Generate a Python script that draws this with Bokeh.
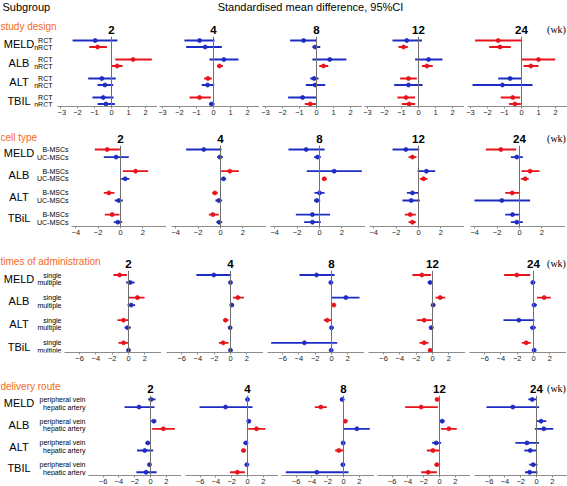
from bokeh.plotting import figure
from bokeh.layouts import row, column
from bokeh.models import Range1d, FixedTicker, ColumnDataSource, Span
from bokeh.core.properties import value
from bokeh.embed import file_html
from bokeh.resources import INLINE

# ---------------- data ----------------
WEEKS = ["2", "4", "8", "12", "24"]
OUTCOMES_A = ["MELD", "ALB", "ALT", "TBIL"]
OUTCOMES_B = ["MELD", "ALB", "ALT", "TBiL"]
GROUP_TITLES = ["study design", "cell type", "times of administration", "delivery route"]
SD_LEVELS = ["RCT", "nRCT"]
CT_LEVELS = ["B-MSCs", "UC-MSCs"]
TA_LEVELS = ["single", "multiple"]
DR_LEVELS = ["peripheral vein", "hepatic artery"]

# order in each week: MELD a, MELD b, ALB a, ALB b, ALT a, ALT b, TBIL a, TBIL b
SD_EST = [[-0.96, -0.82, 1.27, 0.33, -0.57, -0.39, -0.49, -0.33],
          [-0.82, -0.49, 0.61, 0.35, -0.33, -0.35, -0.82, -0.12],
          [-0.76, -0.08, 0.78, 0.41, -0.14, -0.08, -0.82, -0.37],
          [-0.69, -0.88, 0.59, 0.49, -0.59, -0.59, -0.73, -0.55],
          [-1.37, -1.27, 1.00, 0.55, -0.67, -1.12, -0.51, -0.39]]
SD_LO = [[-2.29, -1.31, 0.22, 0.02, -1.37, -0.82, -1.12, -0.82],
         [-1.71, -1.61, -0.24, 0.22, -0.55, -0.69, -1.41, -0.25],
         [-1.55, -0.24, -0.24, 0.16, -0.37, -0.63, -1.67, -0.69],
         [-1.53, -1.18, -0.20, 0.20, -1.08, -1.43, -1.24, -0.98],
         [-2.73, -1.90, 0.02, 0.12, -1.37, -2.88, -1.22, -0.73]]
SD_HI = [[0.35, -0.27, 2.37, 0.65, 0.25, 0.10, 0.12, 0.20],
         [0.06, 0.49, 1.47, 0.55, -0.10, 0.04, -0.16, 0.06],
         [0.02, 0.22, 1.76, 0.69, 0.12, 0.51, 0.02, -0.04],
         [0.20, -0.63, 1.41, 0.84, -0.10, 0.24, -0.20, -0.20],
         [-0.02, -0.63, 1.98, 1.00, 0.02, 0.65, -0.08, -0.04]]
SD_SIG = [[0, 1, 1, 1, 0, 0, 0, 0],
          [0, 0, 0, 1, 1, 0, 1, 0],
          [0, 0, 0, 1, 0, 0, 0, 1],
          [0, 1, 0, 1, 1, 0, 1, 1],
          [1, 1, 1, 1, 0, 0, 1, 1]]

CT_EST = [[-1.19, -0.39, 1.34, 0.42, -1.04, -0.15, -0.74, -0.24],
          [-1.49, -0.06, 0.83, 0.27, -0.51, -0.15, -0.68, -0.12],
          [-1.19, -0.18, 1.31, 0.42, 0.00, -0.24, -0.63, -0.63],
          [-1.13, -0.54, 0.71, 0.45, -0.54, -0.65, -0.74, -0.54],
          [-1.67, -0.24, 0.95, 0.51, -0.65, -1.58, -0.62, -0.24]]
CT_LO = [[-2.29, -1.49, 0.21, 0.06, -1.49, -0.51, -1.40, -0.60],
         [-3.07, -0.30, 0.06, -0.02, -0.74, -0.45, -1.04, -0.36],
         [-2.77, -0.48, -1.13, 0.21, -0.45, -0.48, -2.11, -1.37],
         [-2.32, -0.89, -0.09, 0.12, -1.04, -1.43, -1.22, -0.89],
         [-3.00, -0.77, 0.18, 0.12, -1.28, -4.02, -1.28, -0.77]]
CT_HI = [[-0.06, 0.74, 2.47, 0.80, -0.54, 0.21, -0.09, 0.15],
         [0.09, 0.21, 1.64, 0.50, -0.24, 0.15, -0.15, 0.15],
         [0.45, 0.12, 3.78, 0.65, 0.45, 0.06, 0.95, 0.12],
         [0.06, -0.18, 1.49, 0.80, 0.02, 0.12, -0.24, -0.24],
         [-0.30, 0.30, 1.79, 0.83, -0.02, 0.95, 0.02, 0.30]]
CT_SIG = [[1, 0, 1, 0, 1, 0, 1, 0],
          [0, 0, 1, 0, 1, 0, 1, 0],
          [0, 0, 0, 1, 0, 0, 0, 0],
          [0, 1, 0, 1, 0, 0, 1, 1],
          [1, 0, 1, 1, 1, 0, 0, 0]]

TA_EST = [[-1.10, 0.20, 1.10, 0.33, -0.61, -0.12, -0.61, 0.00],
          [-2.05, 0.00, 0.90, 0.16, -0.61, -0.04, -0.90, 0.00],
          [-1.84, -0.08, 1.76, 0.29, -0.53, 0.00, -3.32, -0.04],
          [-1.31, -0.29, 0.94, 0.08, -1.02, -0.16, -1.02, -0.29],
          [-2.05, -0.08, 1.31, 0.08, -1.80, -0.08, -0.90, 0.08]]
TA_LO = [[-1.84, -0.29, 0.05, -0.12, -1.35, -0.49, -1.23, -0.20],
         [-4.18, -0.10, 0.29, -0.08, -0.90, -0.20, -1.43, -0.20],
         [-3.93, -0.25, -0.05, 0.08, -0.94, -0.20, -7.40, -0.25],
         [-2.46, -0.57, 0.37, -0.16, -1.93, -0.41, -1.60, -0.49],
         [-3.60, -0.29, 0.41, -0.20, -3.69, -0.41, -1.43, -0.12]]
TA_HI = [[-0.20, 0.74, 1.97, 0.82, -0.05, 0.29, -0.05, 0.20],
         [0.08, 0.15, 1.64, 0.41, -0.25, 0.16, -0.25, 0.16],
         [0.37, 0.16, 3.44, 0.49, -0.04, 0.20, 0.70, 0.16],
         [-0.20, 0.05, 1.56, 0.33, -0.08, 0.12, -0.49, -0.08],
         [-0.41, 0.20, 2.13, 0.41, 0.12, 0.29, -0.33, 0.29]]
TA_SIG = [[1, 0, 1, 0, 1, 0, 1, 0],
          [0, 0, 1, 0, 1, 0, 1, 0],
          [0, 0, 0, 1, 1, 0, 0, 0],
          [1, 0, 1, 0, 1, 0, 1, 1],
          [1, 0, 1, 0, 0, 0, 1, 0]]

DR_EST = [[0.09, -1.45, 0.43, 1.62, -0.34, -0.73, -0.13, -0.56],
          [0.00, -2.78, 0.17, 1.15, -0.21, -0.51, -0.09, -1.28],
          [-0.17, -2.87, 0.21, 1.69, -0.04, -0.59, -0.08, -3.38],
          [-0.30, -2.32, 0.34, 1.18, -0.42, -0.84, -0.34, -1.43],
          [-0.54, -3.00, 0.58, 0.92, -1.21, -0.79, -0.42, -0.87]]
DR_LO = [[-0.30, -3.29, 0.09, 0.21, -0.64, -1.71, -0.34, -1.79],
         [-0.21, -6.07, -0.09, 0.09, -0.51, -0.77, -0.30, -2.22],
         [-0.42, -3.63, 0.02, -0.02, -0.25, -1.05, -0.25, -7.30],
         [-0.55, -4.35, -0.02, 0.21, -0.93, -1.60, -0.63, -2.32],
         [-1.04, -6.33, -0.02, -0.21, -2.67, -1.54, -0.92, -1.46]]
DR_HI = [[0.64, 0.51, 0.73, 3.08, 0.00, 0.34, 0.09, 0.77],
         [0.21, 0.64, 0.43, 2.26, 0.09, -0.21, 0.13, -0.34],
         [0.08, -2.11, 0.51, 3.33, 0.17, -0.04, 0.17, 0.63],
         [-0.03, -0.21, 0.63, 2.19, 0.21, -0.03, -0.08, -0.34],
         [0.02, 0.33, 1.25, 2.13, 0.33, 0.02, 0.13, 0.13]]
DR_SIG = [[0, 0, 0, 1, 0, 0, 0, 0],
          [0, 0, 0, 1, 0, 1, 0, 1],
          [0, 1, 1, 0, 0, 1, 0, 0],
          [1, 1, 0, 1, 0, 1, 1, 1],
          [0, 0, 0, 0, 0, 0, 0, 0]]

TICKS_SD = [-3, -2, -1, 0, 1, 2]
TICKS_CT = [-4, -2, 0, 2]
TICKS_WIDE = [-6, -4, -2, 0, 2]

# ---------------- styling / layout (pixel geometry) ----------------
RED = "#E8141C"
BLUE = "#1E2CC4"
ORANGE = "#F26A21"
FONT = "Liberation Sans"
SERIF = "Liberation Serif"

W, H = 567, 486
HEADER_H = 15

ROW_CFG = [
    dict(title=GROUP_TITLES[0], outcomes=OUTCOMES_A, levels=SD_LEVELS, est=SD_EST, lo=SD_LO, hi=SD_HI, sig=SD_SIG,
         ticks=TICKS_SD, top=15, cat_y=26, title_y=29, split=36, y0=40, gs=19.0, io=6.5, axis_y=106, bottom=120,
         zeros=[111, 213, 316, 418, 521], k=17.0, a=-3.15, b=2.7, label_right=52),
    dict(title=GROUP_TITLES[1], outcomes=OUTCOMES_B, levels=CT_LEVELS, est=CT_EST, lo=CT_LO, hi=CT_HI, sig=CT_SIG,
         ticks=TICKS_CT, top=120, cat_y=136.5, title_y=138.2, split=145, y0=149, gs=21.7, io=7.6, axis_y=226,
         bottom=244, zeros=[120, 220, 319, 418, 519], k=11.2, a=-4.4, b=4.1, label_right=68),
    dict(title=GROUP_TITLES[2], outcomes=OUTCOMES_B, levels=TA_LEVELS, est=TA_EST, lo=TA_LO, hi=TA_HI, sig=TA_SIG,
         ticks=TICKS_WIDE, top=244, cat_y=260.5, title_y=263.2, split=270, y0=274.5, gs=22.6, io=7.5, axis_y=352,
         bottom=368, zeros=[128, 230, 331, 432, 533], k=8.15, a=-7.8, b=4.0, label_right=61),
    dict(title=GROUP_TITLES[3], outcomes=OUTCOMES_A, levels=DR_LEVELS, est=DR_EST, lo=DR_LO, hi=DR_HI, sig=DR_SIG,
         ticks=TICKS_WIDE, top=368, cat_y=385.5, title_y=388.2, split=395, y0=399, gs=22.0, io=7.7, axis_y=477,
         bottom=486, zeros=[150, 247, 343, 439, 536], k=7.9, a=-7.8, b=3.9, label_right=85),
]


def base_fig(w, h, xr, yr, bl=0, bb=0, axis=False):
    p = figure(width=w, height=h, x_range=xr, y_range=yr, output_backend="svg", toolbar_location=None,
               x_axis_location="below" if axis else None, y_axis_location=None,
               min_border_left=bl, min_border_right=0, min_border_top=0, min_border_bottom=bb)
    p.outline_line_color = None
    p.background_fill_color = "white"
    p.border_fill_color = "white"
    p.grid.visible = False
    return p


def txt(p, x, y, t, size, align="center", color="black", font=FONT, style="normal"):
    p.text(x=[x], y=[y], text=[t], text_font=value(font), text_font_size=value(size),
           text_font_style=style, text_align=align, text_baseline="middle", text_color=color)


def build_block(cfg):
    top, split, axis_y, bottom = cfg["top"], cfg["split"], cfg["axis_y"], cfg["bottom"]

    # strip with category header, panel titles and unit
    strip = base_fig(W, split - top, Range1d(0, W), Range1d(split, top))
    txt(strip, 0, cfg["cat_y"], cfg["title"], "10px", align="left", color=ORANGE)
    for i, wk in enumerate(WEEKS):
        txt(strip, cfg["zeros"][i], cfg["title_y"], wk, "11.5px", style="bold")
    txt(strip, 556, cfg["title_y"], "(wk)", "10px", font=SERIF)

    # content row
    h = bottom - split
    frame_h = axis_y - split
    bb = h - frame_h
    if bb < 10:
        bb = 10
        frame_h = h - bb
    y0, gs = cfg["y0"], cfg["gs"]
    yr = Range1d(start=(split + frame_h - y0) / gs, end=(split - y0) / gs)
    off = cfg["io"] / gs
    ys = [g + off * j for g in range(4) for j in range(2)]

    zs, k, a, b = cfg["zeros"], cfg["k"], cfg["a"], cfg["b"]
    lefts = [round(z + a * k) for z in zs]
    rights = [min(round(z + b * k), W) for z in zs]

    lw = lefts[0]
    lf = base_fig(lw, h, Range1d(0, lw), yr, bb=bb)
    for g, name in enumerate(cfg["outcomes"]):
        txt(lf, 18.5, g + off / 2, name, "11px")
        for j, lev in enumerate(cfg["levels"]):
            txt(lf, cfg["label_right"], g + off * j, lev, "7px", align="right")
    figs = [lf]

    for i, wk in enumerate(WEEKS):
        prev = lefts[0] if i == 0 else rights[i - 1]
        w = rights[i] - prev
        bl = lefts[i] - prev
        z = zs[i]
        xr = Range1d(start=(lefts[i] - z) / k, end=(rights[i] - z) / k)
        p = base_fig(w, h, xr, yr, bl=bl, bb=bb, axis=True)
        ax = p.xaxis[0]
        ax.ticker = FixedTicker(ticks=cfg["ticks"], minor_ticks=[])
        ax.axis_line_color = "#8c8c8c"
        ax.major_tick_line_color = "#8c8c8c"
        ax.major_tick_out = 2
        ax.major_tick_in = 0
        ax.major_label_standoff = 1
        ax.major_label_text_font = FONT
        ax.major_label_text_font_size = "7.5px"
        ax.major_label_text_color = "#222222"

        p.add_layout(Span(location=0, dimension="height", line_color="#6e6e6e", line_width=1))
        src = ColumnDataSource(dict(y=ys, est=cfg["est"][i], lo=cfg["lo"][i], hi=cfg["hi"][i],
                                    color=[RED if s else BLUE for s in cfg["sig"][i]]))
        p.segment(x0="lo", x1="hi", y0="y", y1="y", line_color="color", line_width=1.8, source=src)
        p.scatter(x="est", y="y", size=4, marker="circle", fill_color="color", line_color="color",
                  line_width=0.8, source=src)
        figs.append(p)
    return column(strip, row(*figs))


header = base_fig(W, HEADER_H, Range1d(0, W), Range1d(HEADER_H, 0))
txt(header, 2, 6.5, "Subgroup", "11px", align="left")
txt(header, 310, 6.5, "Standardised mean difference, 95%CI", "11px")

blocks = [header] + [build_block(cfg) for cfg in ROW_CFG]
layout = column(*blocks)
open("out.html", "w").write(file_html(layout, INLINE))
